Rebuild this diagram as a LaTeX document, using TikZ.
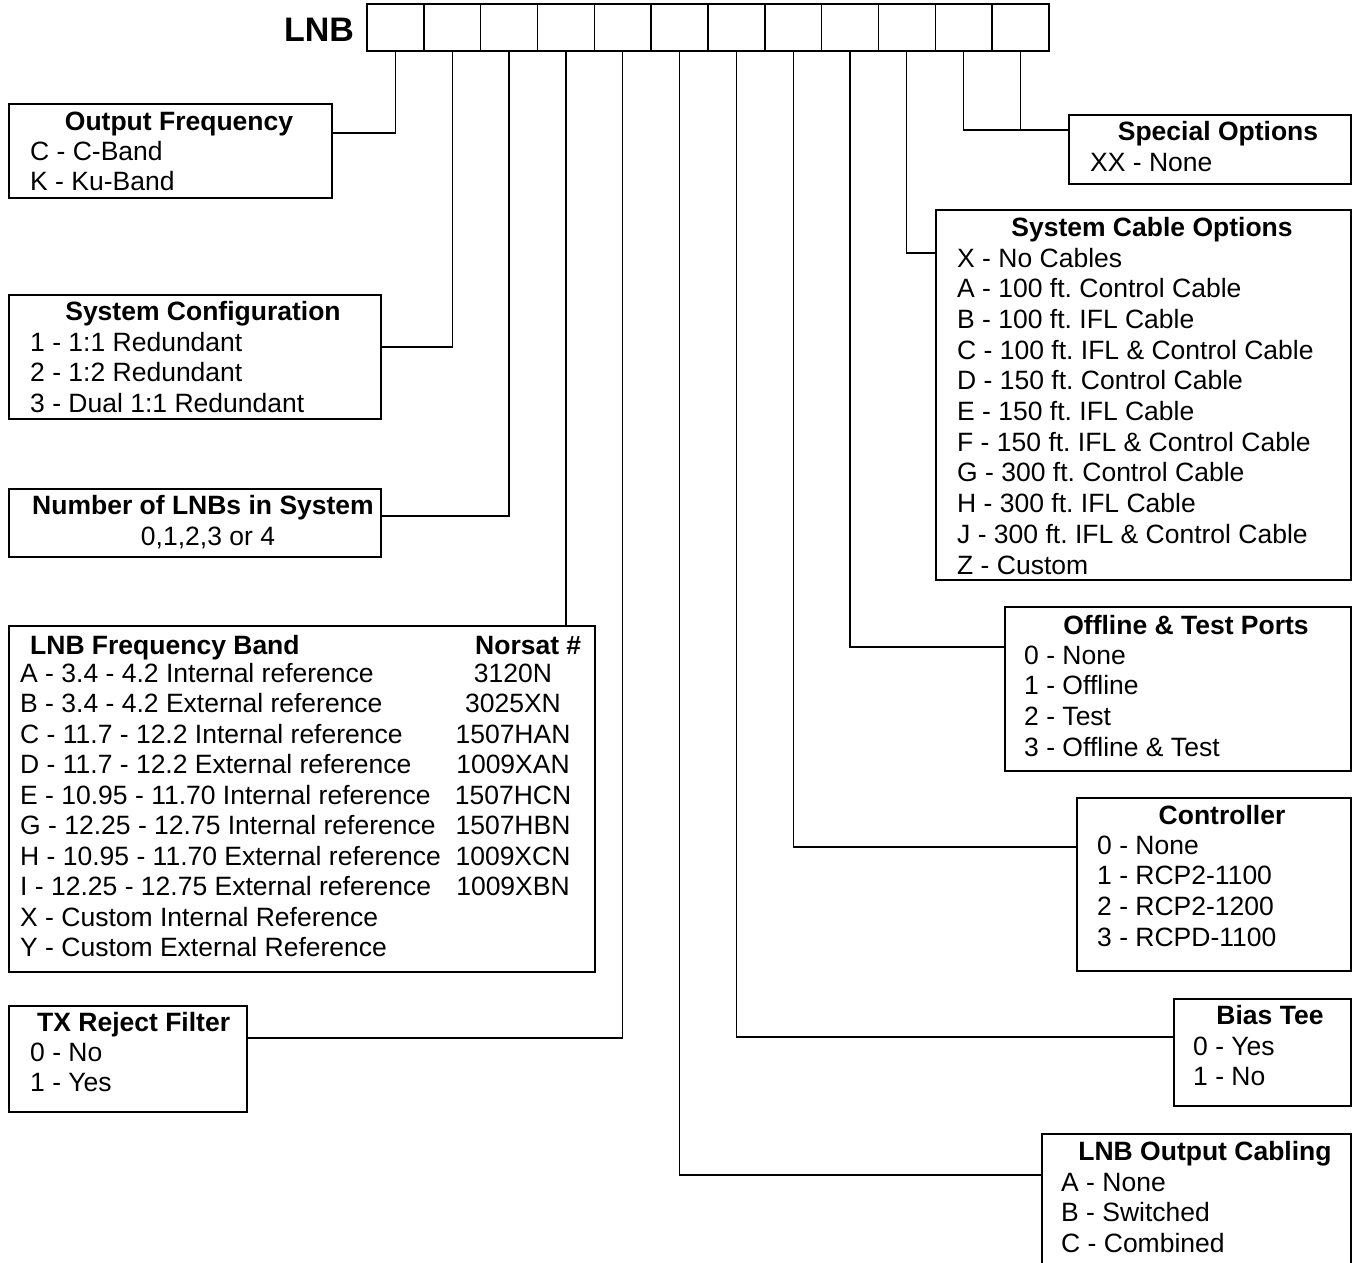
\documentclass[tikz,border=0pt]{standalone}
\usepackage{fontspec}
\setmainfont{Liberation Sans}
\usetikzlibrary{positioning}
\frenchspacing

\begin{document}
\begin{tikzpicture}[x=1pt, y=-1pt,
  cell/.style={draw, line width=1.5pt, minimum width=56.83pt, minimum height=47pt, inner sep=0pt},
  optbox/.style={draw, line width=1.5pt, anchor=north west, inner sep=0pt},
  link/.style={line width=1.2pt},
  head/.style={font=\fontsize{26.5}{30.7}\selectfont\bfseries, anchor=base, inner sep=0pt},
  item/.style={font=\fontsize{26.5}{30.7}\selectfont, anchor=base west, inner sep=0pt}]
  \clip (0,0) rectangle (1353,1262);

  % Code boxes along the top
  \foreach \i in {1,...,12}
    \node[cell] (c\i) at ({367+56.83*(\i-0.5)},27.5) {};
  \node[font=\fontsize{34}{40}\selectfont\bfseries, inner sep=0pt, left=12pt of c1, yshift=-2pt] (lnb) {LNB};

  % Output frequency
  \node[optbox, minimum width=323pt, minimum height=94pt] (outfreq) at (8,103) {};
  \node[head] (outfreq-t) at (179,130) {Output Frequency};
  \foreach \t [count=\k from 0] in {C - C-Band, K - Ku-Band}
    \node[item] (outfreq-\k) at (30,{160+30.7*\k}) {\t};

  % System configuration
  \node[optbox, minimum width=372pt, minimum height=124pt] (syscfg) at (8,294) {};
  \node[head] (syscfg-t) at (203,320) {System Configuration};
  \foreach \t [count=\k from 0] in {1 - 1:1 Redundant, 2 - 1:2 Redundant, 3 - Dual 1:1 Redundant}
    \node[item] (syscfg-\k) at (30,{351+30.7*\k}) {\t};

  % Number of LNBs
  \node[optbox, minimum width=372pt, minimum height=68pt] (numlnb) at (8,488) {};
  \node[head] (numlnb-t) at (203,514) {Number of LNBs in System};
  \node[head, font=\fontsize{26.5}{30.7}\selectfont] (numlnb-0) at (208,545) {0,1,2,3 or 4};

  % LNB frequency band
  \node[optbox, minimum width=586pt, minimum height=346pt] (band) at (8,625) {};
  \node[head, anchor=base west] (band-t) at (30,654) {LNB Frequency Band};
  \node[head, anchor=base west] (norsat-t) at (475,654) {Norsat \#};
  \foreach \t [count=\k from 0] in {A - 3.4 - 4.2 Internal reference, B - 3.4 - 4.2 External reference,
      C - 11.7 - 12.2 Internal reference, D - 11.7 - 12.2 External reference,
      E - 10.95 - 11.70 Internal reference, G - 12.25 - 12.75 Internal reference,
      H - 10.95 - 11.70 External reference, I - 12.25 - 12.75 External reference,
      X - Custom Internal Reference, Y - Custom External Reference}
    \node[item] (band-\k) at (20,{682+30.55*\k}) {\t};
  \foreach \t [count=\k from 0] in {3120N, 3025XN, 1507HAN, 1009XAN, 1507HCN, 1507HBN, 1009XCN, 1009XBN}
    \node[item, anchor=base] (norsat-\k) at (513,{682+30.55*\k}) {\t};

  % TX reject filter
  \node[optbox, minimum width=238pt, minimum height=106pt] (txrej) at (8,1005) {};
  \node[head, anchor=base west] (txrej-t) at (37,1031) {TX Reject Filter};
  \foreach \t [count=\k from 0] in {0 - No, 1 - Yes}
    \node[item] (txrej-\k) at (30,{1061+30.7*\k}) {\t};

  % Special options
  \node[optbox, minimum width=282pt, minimum height=69pt] (special) at (1068,114) {};
  \node[head] (special-t) at (1218,140) {Special Options};
  \node[item] (special-0) at (1090,171) {XX - None};

  % System cable options
  \node[optbox, minimum width=415pt, minimum height=370pt] (cables) at (935,209) {};
  \node[head] (cables-t) at (1152,236) {System Cable Options};
  \foreach \t [count=\k from 0] in {X - No Cables, A - 100 ft. Control Cable, B - 100 ft. IFL Cable,
      C - 100 ft. IFL \& Control Cable, D - 150 ft. Control Cable, E - 150 ft. IFL Cable,
      F - 150 ft. IFL \& Control Cable, G - 300 ft. Control Cable, H - 300 ft. IFL Cable,
      J - 300 ft. IFL \& Control Cable, Z - Custom}
    \node[item] (cables-\k) at (957,{267+30.7*\k}) {\t};

  % Offline & test ports
  \node[optbox, minimum width=346pt, minimum height=164pt] (ports) at (1004,606) {};
  \node[head] (ports-t) at (1186,634) {Offline \& Test Ports};
  \foreach \t [count=\k from 0] in {0 - None, 1 - Offline, 2 - Test, 3 - Offline \& Test}
    \node[item] (ports-\k) at (1024,{664+30.7*\k}) {\t};

  % Controller
  \node[optbox, minimum width=274pt, minimum height=173pt] (ctrl) at (1076,797) {};
  \node[head] (ctrl-t) at (1222,824) {Controller};
  \foreach \t [count=\k from 0] in {0 - None, 1 - RCP2-1100, 2 - RCP2-1200, 3 - RCPD-1100}
    \node[item] (ctrl-\k) at (1097,{854+30.7*\k}) {\t};

  % Bias tee
  \node[optbox, minimum width=177pt, minimum height=107pt] (bias) at (1173,998) {};
  \node[head] (bias-t) at (1270,1024) {Bias Tee};
  \foreach \t [count=\k from 0] in {0 - Yes, 1 - No}
    \node[item] (bias-\k) at (1193,{1055+30.7*\k}) {\t};

  % LNB output cabling
  \node[optbox, minimum width=309pt, minimum height=150pt] (outcab) at (1041,1133) {};
  \node[head] (outcab-t) at (1205,1160) {LNB Output Cabling};
  \foreach \t [count=\k from 0] in {A - None, B - Switched, C - Combined}
    \node[item] (outcab-\k) at (1061,{1191+30.5*\k}) {\t};

  % Leader lines
  \draw[link] (c1.south) |- (outfreq.east |- 0,133);
  \draw[link] (c2.south) |- (syscfg.east |- 0,347);
  \draw[link] (c3.south) |- (numlnb.east |- 0,516);
  \draw[link] (c4.south) -- (band.north -| c4.south);
  \draw[link] (c5.south) |- (txrej.east |- 0,1038);
  \draw[link] (c6.south) |- (outcab.west |- 0,1175);
  \draw[link] (c7.south) |- (bias.west |- 0,1037);
  \draw[link] (c8.south) |- (ctrl.west |- 0,847);
  \draw[link] (c9.south) |- (ports.west |- 0,647);
  \draw[link] (c10.south) |- (cables.west |- 0,253);
  \draw[link] (c11.south) |- (special.west |- 0,130);
  \draw[link] (c12.south) -- (c12.south |- 0,130);
\end{tikzpicture}
\end{document}
